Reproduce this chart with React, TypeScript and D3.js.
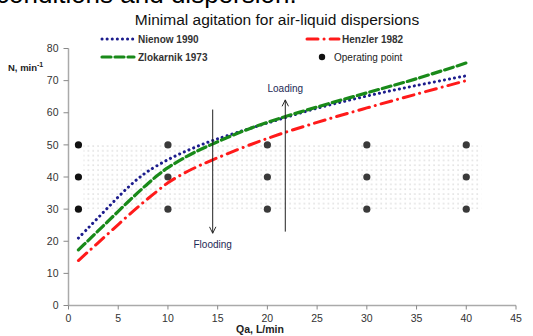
import * as d3 from "d3";
import { useEffect, useRef } from "react";

// airflow Qa (L/min) at which each curve was read
const nienowQ = [1, 2, 3, 4, 5, 6, 7, 8, 10, 12, 14, 16, 20, 25, 30, 35, 40];
const nienowN = [21, 24.2, 27.4, 30.6, 33.8, 36.8, 39.5, 41.8, 45.4, 48.3, 50.8, 52.9, 56.8, 61.4, 65.2, 68.5, 71.5];

const zlokQ = [1, 2, 3, 4, 5, 6, 7, 8, 9, 10, 12, 14, 17, 20, 25, 30, 35, 40];
const zlokN = [17.3, 20.3, 23.3, 26.3, 29.3, 32.3, 35.2, 38, 40.6, 42.9, 46.6, 49.6, 53.6, 57, 61.8, 66.2, 70.6, 75.5];

const henzQ = [1, 2, 3, 4, 5, 6, 7, 8, 9, 10, 12, 15, 20, 25, 30, 35, 40];
const henzN = [14, 16.8, 19.6, 22.4, 25.2, 28, 30.7, 33.3, 35.8, 38.2, 41.8, 46, 52, 57, 61.5, 65.8, 70];

// operating points grid
const opQ = [1, 10, 20, 30, 40];
const opN = [30, 40, 50];

const xTicks = [0, 5, 10, 15, 20, 25, 30, 35, 40, 45];
const yTicks = [0, 10, 20, 30, 40, 50, 60, 70, 80];

// annotation arrows
const floodingArrow = { q: 14.5, from: 61, to: 22.5, label: "Flooding" };
const loadingArrow = { q: 21.8, from: 23, to: 64, label: "Loading" };

const width = 533;
const height = 336;
const font = "Arial, 'Liberation Sans', sans-serif";

export default function App() {
  const svgRef = useRef<SVGSVGElement>(null);

  useEffect(() => {
    if (!svgRef.current) return;
    const svg = d3.select(svgRef.current);
    svg.selectAll("*").remove();

    const x = d3.scaleLinear([0, 45], [68.5, 516]);
    const y = d3.scaleLinear([0, 80], [305.5, 48.5]);

    const defs = svg.append("defs");
    const pat = defs
      .append("pattern")
      .attr("id", "dots")
      .attr("patternUnits", "userSpaceOnUse")
      .attr("width", 4.8)
      .attr("height", 4.8);
    pat.append("rect").attr("x", 1.5).attr("y", 1.5).attr("width", 1).attr("height", 1).attr("fill", "#b0b0b0");

    defs
      .append("marker")
      .attr("id", "arrow")
      .attr("viewBox", "0 0 10 10")
      .attr("refX", 9)
      .attr("refY", 5)
      .attr("markerWidth", 8)
      .attr("markerHeight", 8)
      .attr("orient", "auto")
      .append("path")
      .attr("d", "M1,1 L9,5 L1,9")
      .attr("fill", "none")
      .attr("stroke", "#222")
      .attr("stroke-width", 1.2);

    // cut-off heading from the slide above
    svg
      .append("text")
      .attr("x", -4)
      .attr("y", 3)
      .attr("font-family", font)
      .attr("font-size", 26)
      .attr("fill", "#000")
      .text("conditions and dispersion.");

    // title
    svg
      .append("text")
      .attr("x", 277)
      .attr("y", 25)
      .attr("text-anchor", "middle")
      .attr("font-family", font)
      .attr("font-size", 15.5)
      .attr("fill", "#111")
      .text("Minimal agitation for air-liquid dispersions");

    // operating region
    svg
      .append("rect")
      .attr("x", x(1.5))
      .attr("y", y(50))
      .attr("width", x(41.5) - x(1.5))
      .attr("height", y(30) - y(50))
      .attr("fill", "url(#dots)");

    // axes
    const yAxis = svg.append("g").attr("transform", `translate(${x(0)},0)`);
    yAxis
      .append("line")
      .attr("y1", y(80))
      .attr("y2", y(0))
      .attr("stroke", "#aaa")
      .attr("stroke-width", 1.5);
    yTicks.forEach((t) => {
      yAxis
        .append("line")
        .attr("x1", -5)
        .attr("x2", 0)
        .attr("y1", y(t))
        .attr("y2", y(t))
        .attr("stroke", "#888");
      yAxis
        .append("text")
        .attr("x", -10)
        .attr("y", y(t))
        .attr("dy", "0.35em")
        .attr("text-anchor", "end")
        .attr("font-family", font)
        .attr("font-size", 10.5)
        .attr("fill", "#333")
        .text(t);
    });

    const xAxis = svg.append("g").attr("transform", `translate(0,${y(0)})`);
    xAxis
      .append("line")
      .attr("x1", x(0))
      .attr("x2", x(45))
      .attr("stroke", "#aaa")
      .attr("stroke-width", 1.5);
    xTicks.forEach((t) => {
      xAxis
        .append("line")
        .attr("x1", x(t))
        .attr("x2", x(t))
        .attr("y1", 0)
        .attr("y2", 4)
        .attr("stroke", "#888");
      xAxis
        .append("text")
        .attr("x", x(t))
        .attr("y", 16)
        .attr("text-anchor", "middle")
        .attr("font-family", font)
        .attr("font-size", 10.5)
        .attr("fill", "#333")
        .text(t);
    });

    // axis labels
    const yl = svg
      .append("text")
      .attr("x", 8)
      .attr("y", 71)
      .attr("font-family", font)
      .attr("font-size", 9.5)
      .attr("font-weight", "bold")
      .attr("fill", "#222");
    yl.append("tspan").text("N, min");
    yl.append("tspan").attr("dy", -4).attr("font-size", 7).text("-1");

    svg
      .append("text")
      .attr("x", 260)
      .attr("y", 333)
      .attr("text-anchor", "middle")
      .attr("font-family", font)
      .attr("font-size", 10.5)
      .attr("font-weight", "bold")
      .attr("fill", "#222")
      .text("Qa, L/min");

    // operating points
    opQ.forEach((q) =>
      opN.forEach((n) => {
        svg
          .append("circle")
          .attr("cx", x(q))
          .attr("cy", y(n))
          .attr("r", 3.6)
          .attr("fill", q === 1 ? "#111" : "#3a3a3a");
      })
    );

    const line = d3
      .line<[number, number]>()
      .x((d) => x(d[0]))
      .y((d) => y(d[1]))
      .curve(d3.curveCatmullRom.alpha(0.5));

    const series = [
      { q: nienowQ, n: nienowN, color: "#1c1c8c", dash: "0.1 5", width: 3 },
      { q: zlokQ, n: zlokN, color: "#198a19", dash: "9 4", width: 3.2 },
      { q: henzQ, n: henzN, color: "#ff1a1a", dash: "11 6 0.1 6", width: 3 },
    ];
    series.forEach((s) => {
      svg
        .append("path")
        .datum(s.q.map((q, i) => [q, s.n[i]] as [number, number]))
        .attr("d", line)
        .attr("fill", "none")
        .attr("stroke", s.color)
        .attr("stroke-width", s.width)
        .attr("stroke-linecap", "round")
        .attr("stroke-dasharray", s.dash);
    });

    // annotations
    [floodingArrow, loadingArrow].forEach((a) => {
      svg
        .append("line")
        .attr("x1", x(a.q))
        .attr("x2", x(a.q))
        .attr("y1", y(a.from))
        .attr("y2", y(a.to))
        .attr("stroke", "#222")
        .attr("stroke-width", 1)
        .attr("marker-end", "url(#arrow)");
    });
    svg
      .append("text")
      .attr("x", x(floodingArrow.q))
      .attr("y", y(floodingArrow.to) + 15)
      .attr("text-anchor", "middle")
      .attr("font-family", font)
      .attr("font-size", 10)
      .attr("fill", "#1d2a55")
      .text(floodingArrow.label);
    svg
      .append("text")
      .attr("x", x(loadingArrow.q))
      .attr("y", y(loadingArrow.to) - 8)
      .attr("text-anchor", "middle")
      .attr("font-family", font)
      .attr("font-size", 10)
      .attr("fill", "#1d2a55")
      .text(loadingArrow.label);

    // legend
    const legend = [
      { lx: 102, ly: 39, tx: 138, label: "Nienow 1990", ...series[0] },
      { lx: 102, ly: 57, tx: 138, label: "Zlokarnik 1973", ...series[1] },
      { lx: 307, ly: 39, tx: 342, label: "Henzler 1982", ...series[2] },
    ];
    legend.forEach((l) => {
      svg
        .append("line")
        .attr("x1", l.lx)
        .attr("x2", l.lx + 32)
        .attr("y1", l.ly)
        .attr("y2", l.ly)
        .attr("stroke", l.color)
        .attr("stroke-width", l.width)
        .attr("stroke-linecap", "round")
        .attr("stroke-dasharray", l.dash);
      svg
        .append("text")
        .attr("x", l.tx)
        .attr("y", l.ly)
        .attr("dy", "0.35em")
        .attr("font-family", font)
        .attr("font-size", 10)
        .attr("font-weight", "bold")
        .attr("fill", "#333")
        .text(l.label);
    });
    svg.append("circle").attr("cx", 322).attr("cy", 57).attr("r", 3.2).attr("fill", "#111");
    svg
      .append("text")
      .attr("x", 334)
      .attr("y", 57)
      .attr("dy", "0.35em")
      .attr("font-family", font)
      .attr("font-size", 10)
      .attr("fill", "#222")
      .text("Operating point");
  }, []);

  return (
    <svg
      ref={svgRef}
      width={width}
      height={height}
      style={{ position: "absolute", left: 0, top: 0, background: "#fff" }}
    />
  );
}
